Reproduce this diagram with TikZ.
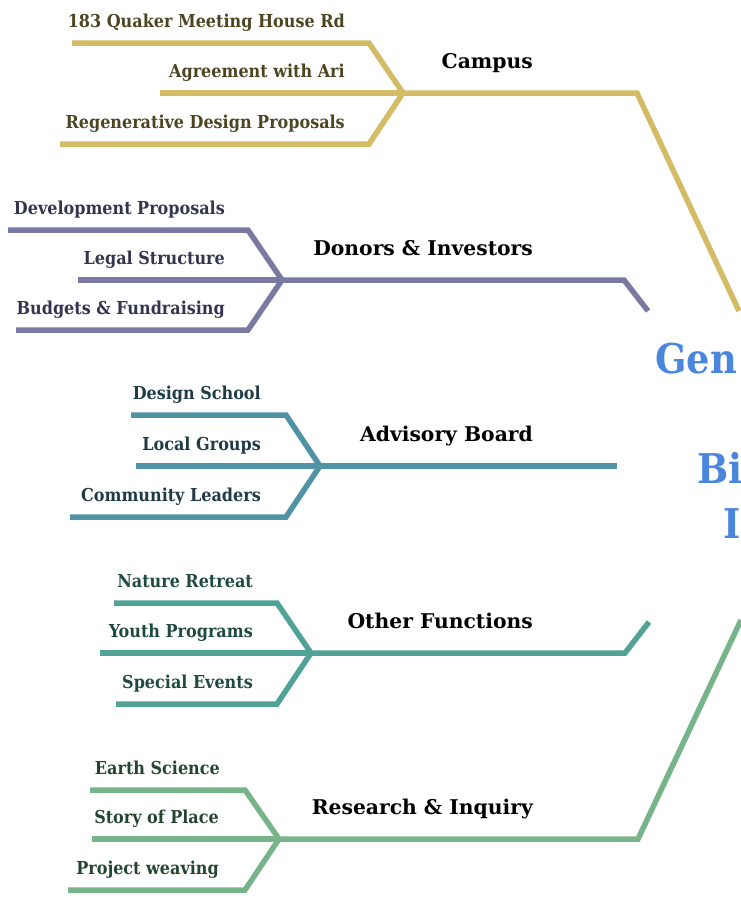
\documentclass[tikz,border=0pt]{standalone}
\usepackage{fontspec}
\setmainfont{DejaVu Serif}
\newfontfamily\subfont{DejaVu Serif Condensed}
\definecolor{cgold}{HTML}{D4BC66}
\definecolor{cpurple}{HTML}{7A79A2}
\definecolor{cadv}{HTML}{5093A5}
\definecolor{cother}{HTML}{51A297}
\definecolor{cres}{HTML}{77B48A}
\definecolor{tgold}{HTML}{4D4522}
\definecolor{tpurple}{HTML}{35344F}
\definecolor{tadv}{HTML}{1F3B44}
\definecolor{tother}{HTML}{1F4A40}
\definecolor{tres}{HTML}{24452F}
\definecolor{cblue}{HTML}{4B86DD}
\tikzset{
  br/.style={line width=5.5pt, line join=miter},
  sublab/.style={anchor=base east, inner sep=0pt, font=\subfont\bfseries\fontsize{17.8}{17.8}\selectfont},
  mainlab/.style={anchor=base east, inner sep=0pt, font=\bfseries\fontsize{20.3}{20.3}\selectfont, text=black},
  centerlab/.style={anchor=base west, inner sep=0pt, font=\subfont\bfseries\fontsize{41}{41}\selectfont, text=cblue},
}
\begin{document}
\begin{tikzpicture}[x=1pt,y=-1pt]
\useasboundingbox (0,0) rectangle (741,900);
\begin{scope}
\clip (0,0) rectangle (741,900);
% ---------- Campus ----------
\coordinate (ca) at (403,93);
\coordinate (caT0) at (72,43);   \coordinate (caT1) at (369,43);
\coordinate (caM0) at (160,93);
\coordinate (caB0) at (60,144);  \coordinate (caB1) at (369,144);
\coordinate (caE1) at (637,93);  \coordinate (caE2) at (739,311);
\draw[br,cgold] (caT0) -- (caT1) -- (ca);
\draw[br,cgold] (caM0) -- (ca);
\draw[br,cgold] (caB0) -- (caB1) -- (ca);
\draw[br,cgold] (ca) -- (caE1) -- (caE2);
\node[sublab,text=tgold] (ca1) at (345,27) {183 Quaker Meeting House Rd};
\node[sublab,text=tgold] (ca2) at (345,77) {Agreement with Ari};
\node[sublab,text=tgold] (ca3) at (345,128) {Regenerative Design Proposals};
\node[mainlab] (caL) at (533,68) {Campus};
% ---------- Donors ----------
\coordinate (do) at (282,280);
\coordinate (doT0) at (8,230);   \coordinate (doT1) at (248,230);
\coordinate (doM0) at (78,280);
\coordinate (doB0) at (16,330);  \coordinate (doB1) at (248,330);
\coordinate (doE1) at (624,280); \coordinate (doE2) at (648,311);
\draw[br,cpurple] (doT0) -- (doT1) -- (do);
\draw[br,cpurple] (doM0) -- (do);
\draw[br,cpurple] (doB0) -- (doB1) -- (do);
\draw[br,cpurple] (do) -- (doE1) -- (doE2);
\node[sublab,text=tpurple] (do1) at (225,214) {Development Proposals};
\node[sublab,text=tpurple] (do2) at (225,264) {Legal Structure};
\node[sublab,text=tpurple] (do3) at (225,314) {Budgets \& Fundraising};
\node[mainlab] (doL) at (533,255) {Donors \& Investors};
% ---------- Advisory ----------
\coordinate (ad) at (320,466);
\coordinate (adT0) at (131,415); \coordinate (adT1) at (286,415);
\coordinate (adM0) at (136,466);
\coordinate (adB0) at (70,517);  \coordinate (adB1) at (286,517);
\coordinate (adE1) at (617,466);
\draw[br,cadv] (adT0) -- (adT1) -- (ad);
\draw[br,cadv] (adM0) -- (ad);
\draw[br,cadv] (adB0) -- (adB1) -- (ad);
\draw[br,cadv] (ad) -- (adE1);
\node[sublab,text=tadv] (ad1) at (261,399) {Design School};
\node[sublab,text=tadv] (ad2) at (261,450) {Local Groups};
\node[sublab,text=tadv] (ad3) at (261,501) {Community Leaders};
\node[mainlab] (adL) at (533,441) {Advisory Board};
% ---------- Other ----------
\coordinate (ot) at (311,653);
\coordinate (otT0) at (114,603); \coordinate (otT1) at (277,603);
\coordinate (otM0) at (100,653);
\coordinate (otB0) at (116,704); \coordinate (otB1) at (277,704);
\coordinate (otE1) at (625,653); \coordinate (otE2) at (649,622);
\draw[br,cother] (otT0) -- (otT1) -- (ot);
\draw[br,cother] (otM0) -- (ot);
\draw[br,cother] (otB0) -- (otB1) -- (ot);
\draw[br,cother] (ot) -- (otE1) -- (otE2);
\node[sublab,text=tother] (ot1) at (253,587) {Nature Retreat};
\node[sublab,text=tother] (ot2) at (253,637) {Youth Programs};
\node[sublab,text=tother] (ot3) at (253,688) {Special Events};
\node[mainlab] (otL) at (533,628) {Other Functions};
% ---------- Research ----------
\coordinate (re) at (279,839);
\coordinate (reT0) at (90,790);  \coordinate (reT1) at (245,790);
\coordinate (reM0) at (92,839);
\coordinate (reB0) at (68,890);  \coordinate (reB1) at (245,890);
\coordinate (reE1) at (638,839); \coordinate (reE2) at (741,620);
\draw[br,cres] (reT0) -- (reT1) -- (re);
\draw[br,cres] (reM0) -- (re);
\draw[br,cres] (reB0) -- (reB1) -- (re);
\draw[br,cres] (re) -- (reE1) -- (reE2);
\node[sublab,text=tres] (re1) at (220,774) {Earth Science};
\node[sublab,text=tres] (re2) at (219,823) {Story of Place};
\node[sublab,text=tres] (re3) at (219,874) {Project weaving};
\node[mainlab] (reL) at (533,814) {Research \& Inquiry};
% ---------- centre ----------
\node[centerlab] (c1) at (655,373) {Gen};
\node[centerlab] (c2) at (697,483) {Bi};
\node[centerlab] (c3) at (723,538) {I};
\end{scope}
\end{tikzpicture}
\end{document}
